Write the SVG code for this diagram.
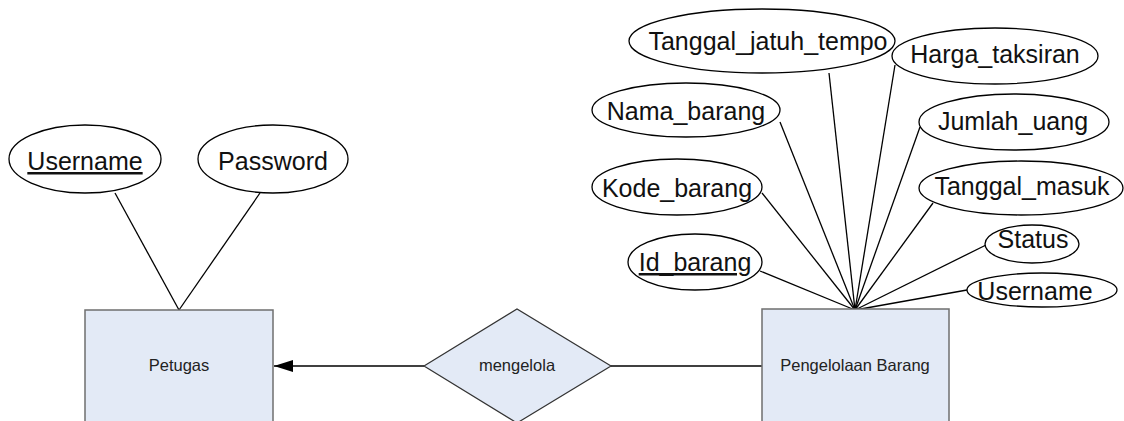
<svg xmlns="http://www.w3.org/2000/svg" width="1124" height="421" viewBox="0 0 1124 421">
<style>
.ent{fill:#e3eaf6;stroke:#6f6f6f;stroke-width:1.5}
.rel{fill:#e3eaf6;stroke:#333;stroke-width:1.2}
.att{fill:#fff;stroke:#000;stroke-width:1.3}
.ln{stroke:#000;stroke-width:1.3;fill:none}
.at{font-family:"Liberation Sans",Arial,sans-serif;font-size:25px;fill:#111;text-anchor:middle}
.sm{font-family:"Liberation Sans",Arial,sans-serif;font-size:16.5px;fill:#222;text-anchor:middle}
.u{text-decoration:underline}
</style>
<defs>
<marker id="arr" markerUnits="userSpaceOnUse" markerWidth="19" markerHeight="12" viewBox="0 0 19 12" refX="19" refY="6" orient="auto">
<path d="M0,0 L19,6 L0,12 z" fill="#000"/>
</marker>
</defs>
<rect width="1124" height="421" fill="#fff"/>
<g id="connectors">
<line class="ln" x1="115" y1="193" x2="179" y2="310"/>
<line class="ln" x1="260" y1="193" x2="179" y2="310"/>
<line class="ln" x1="829" y1="73" x2="855" y2="310"/>
<line class="ln" x1="895" y1="65" x2="855" y2="310"/>
<line class="ln" x1="780" y1="122" x2="855" y2="310"/>
<line class="ln" x1="920" y1="127" x2="855" y2="310"/>
<line class="ln" x1="762" y1="193" x2="855" y2="310"/>
<line class="ln" x1="933" y1="203" x2="855" y2="310"/>
<line class="ln" x1="760" y1="271" x2="855" y2="310"/>
<line class="ln" x1="986" y1="245" x2="855" y2="310"/>
<line class="ln" x1="967" y1="290" x2="855" y2="310"/>
<line class="ln" x1="424" y1="366" x2="274" y2="366" marker-end="url(#arr)"/>
<line class="ln" x1="611" y1="366" x2="762" y2="366"/>
</g>
<g id="petugas">
<rect class="ent" x="85" y="310" width="188" height="125"/>
<text class="sm" x="179" y="371">Petugas</text>
</g>
<g id="pengelolaan_barang">
<rect class="ent" x="762" y="309" width="187" height="125"/>
<text class="sm" x="855" y="371">Pengelolaan Barang</text>
</g>
<g id="mengelola">
<polygon class="rel" points="424,366 517,309 611,366 517,423"/>
<text class="sm" x="517" y="371">mengelola</text>
</g>
<g id="attr_username_petugas">
<ellipse class="att" cx="85" cy="159" rx="76" ry="34"/>
<text class="at u" x="85" y="170">Username</text>
</g>
<g id="attr_password">
<ellipse class="att" cx="273" cy="159" rx="75" ry="34"/>
<text class="at" x="273" y="170">Password</text>
</g>
<g id="attr_tanggal_jatuh_tempo">
<ellipse class="att" cx="762" cy="41" rx="133" ry="32"/>
<text class="at" x="768" y="50">Tanggal_jatuh_tempo</text>
</g>
<g id="attr_harga_taksiran">
<ellipse class="att" cx="995" cy="56" rx="103" ry="28"/>
<text class="at" x="995" y="63">Harga_taksiran</text>
</g>
<g id="attr_nama_barang">
<ellipse class="att" cx="686" cy="110" rx="94" ry="27"/>
<text class="at" x="686" y="120">Nama_barang</text>
</g>
<g id="attr_jumlah_uang">
<ellipse class="att" cx="1014" cy="122" rx="95" ry="28"/>
<text class="at" x="1013" y="130">Jumlah_uang</text>
</g>
<g id="attr_kode_barang">
<ellipse class="att" cx="677" cy="187" rx="85" ry="28"/>
<text class="at" x="677" y="197">Kode_barang</text>
</g>
<g id="attr_tanggal_masuk">
<ellipse class="att" cx="1021" cy="188" rx="102" ry="27"/>
<text class="at" x="1022" y="195">Tanggal_masuk</text>
</g>
<g id="attr_id_barang">
<ellipse class="att" cx="695" cy="262" rx="67" ry="28"/>
<text class="at u" x="695" y="271">Id_barang</text>
</g>
<g id="attr_status">
<ellipse class="att" cx="1032" cy="244" rx="47" ry="19"/>
<text class="at" x="1033" y="248">Status</text>
</g>
<g id="attr_username_barang">
<ellipse class="att" cx="1042" cy="290" rx="75" ry="17"/>
<text class="at" x="1035" y="300">Username</text>
</g>
</svg>
